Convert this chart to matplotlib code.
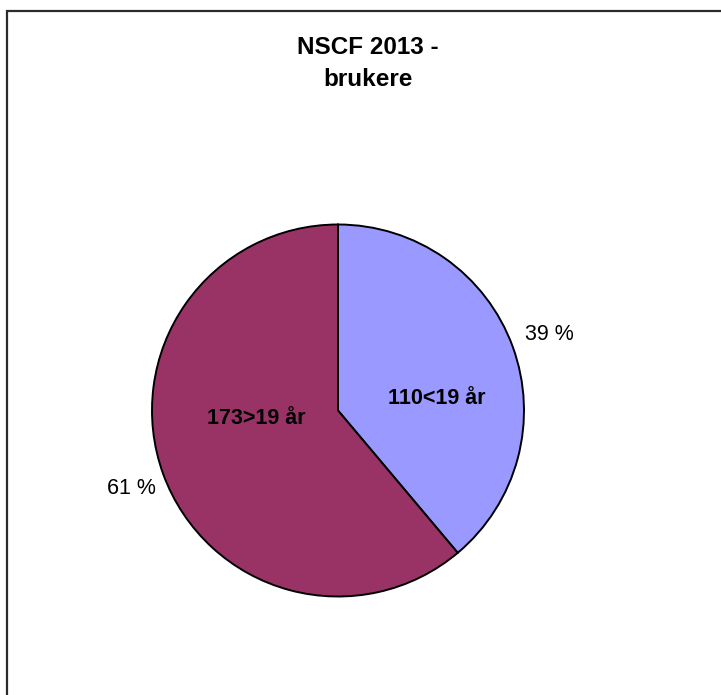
import matplotlib

matplotlib.use("Agg")
import matplotlib.pyplot as plt
from matplotlib.patches import Rectangle

plt.rcParams["font.family"] = ["Liberation Sans", "DejaVu Sans"]

# data
counts = [110, 173]
groups = ["<19 år", ">19 år"]
colors = ["#9999FF", "#993366"]
title_lines = ["NSCF 2013 -", "brukere"]

W, H = 721, 695
fig = plt.figure(figsize=(W / 100, H / 100), dpi=100)

# outer frame (Excel chart area border, cut off at right/bottom)
fig.patches.append(Rectangle((7 / W, -0.05), 1.1, 1 - 11 / H + 0.05,
                             transform=fig.transFigure, fill=False,
                             edgecolor="#2b2b2b", linewidth=1.6))

cx, cy, r = 338, 410.5, 186
ax = fig.add_axes([(cx - r) / W, (H - cy - r) / H, 2 * r / W, 2 * r / H])
total = sum(counts)
pct_labels = [f"{round(100 * c / total)} %" for c in counts]
wedges, texts = ax.pie(counts, colors=colors, startangle=90, counterclock=False,
                       labels=pct_labels, labeldistance=1.07,
                       wedgeprops={"edgecolor": "black", "linewidth": 1.4},
                       textprops={"fontsize": 15.5})
# nudge outer labels a little, like Excel's placement
for t, (dx, dy) in zip(texts, [(0.0, 0.04), (0.025, -0.055)]):
    x, y = t.get_position()
    t.set_position((x + dx, y + dy))
ax.set_xlim(-1, 1)
ax.set_ylim(-1, 1)
ax.set_aspect("equal")
ax.axis("off")

# inside value labels (Excel best-fit placement)
inner_pos = [(0.53, 0.065), (-0.44, -0.045)]
for c, g, (x, y) in zip(counts, groups, inner_pos):
    ax.text(x, y, f"{c}{g}", ha="center", va="center", fontsize=15.5,
            fontweight="bold")

fig.text(368 / W, 1 - 47 / H, title_lines[0], ha="center", va="center",
         fontsize=17.5, fontweight="bold")
fig.text(368 / W, 1 - 79 / H, title_lines[1], ha="center", va="center",
         fontsize=17.5, fontweight="bold")

fig.savefig("out.png", dpi=100)
